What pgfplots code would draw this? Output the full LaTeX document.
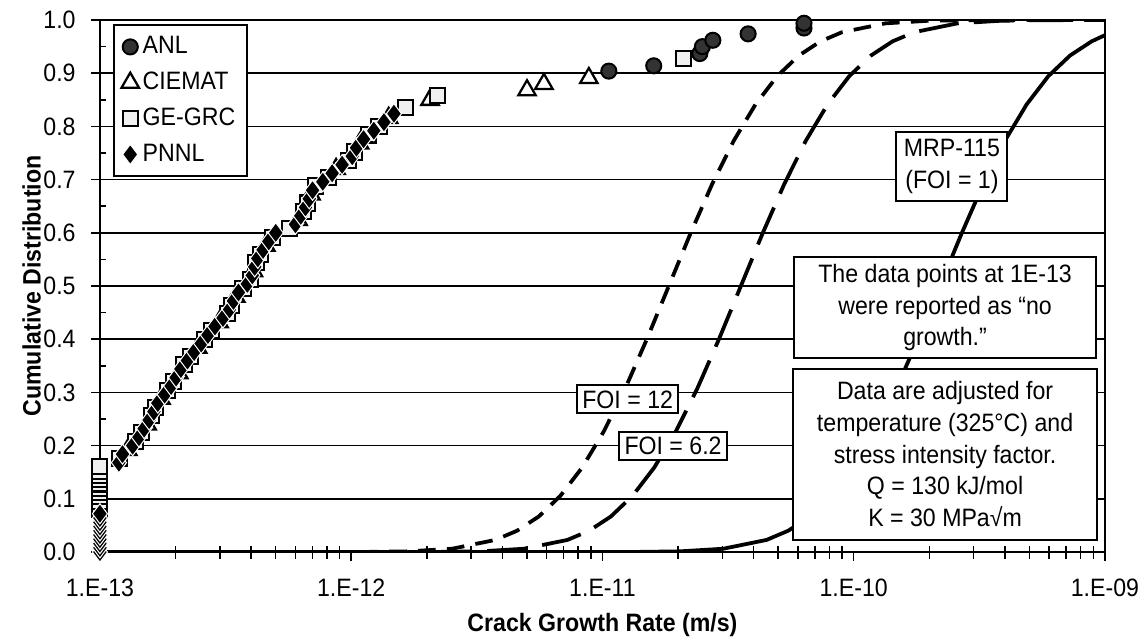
\documentclass[border=0pt]{standalone}
\usepackage{fontspec}
\setmainfont[FakeStretch=0.92]{Liberation Sans}
\usepackage{pgfplots}
\pgfplotsset{compat=1.18}

\begin{document}
\fontsize{10pt}{12pt}\selectfont
\begin{tikzpicture}
\begin{axis}[
    scale only axis,
    width=14.044cm, height=7.434cm,
    xmode=log,
    xmin=1e-13, xmax=1e-9, ymin=0, ymax=1,
    xtick={1e-13,1e-12,1e-11,1e-10,1e-9},
    xticklabels={1.E-13,1.E-12,1.E-11,1.E-10,1.E-09},
    ytick={0,0.1,0.2,0.3,0.4,0.5,0.6,0.7,0.8,0.9,1},
    yticklabels={0.0,0.1,0.2,0.3,0.4,0.5,0.6,0.7,0.8,0.9,1.0},
    xtick pos=bottom, ytick pos=left,
    tick align=outside, major tick length=3.5pt,
    tick style={black, line width=0.6pt},
    extra x ticks={2e-13,3e-13,4e-13,5e-13,6e-13,7e-13,8e-13,9e-13,
                   2e-12,3e-12,4e-12,5e-12,6e-12,7e-12,8e-12,9e-12,
                   2e-11,3e-11,4e-11,5e-11,6e-11,7e-11,8e-11,9e-11,
                   2e-10,3e-10,4e-10,5e-10,6e-10,7e-10,8e-10,9e-10},
    extra x tick labels={},
    extra x tick style={tick align=inside, major tick length=2.5pt, grid=none},
    extra y ticks={0.05,0.15,0.25,0.35,0.45,0.55,0.65,0.75,0.85,0.95},
    extra y tick labels={},
    extra y tick style={tick align=inside, major tick length=2.5pt, grid=none},
    ymajorgrids,
    major grid style={black, line width=0.6pt},
    axis line style={black, line width=1pt},
    /pgf/number format/assume math mode=true,
    yticklabel style={inner sep=0pt, xshift=-6pt},
    xticklabel style={inner sep=0pt, yshift=-7pt},
    xlabel={\bfseries Crack Growth Rate (m/s)},
    ylabel={\bfseries Cumulative Distribution},
    xlabel style={at={(axis description cs:0.5,-0.137)}, anchor=center},
    ylabel style={at={(axis description cs:-0.068,0.5)}, anchor=center},
    legend style={at={(0.013,0.9925)}, anchor=north west, draw=black,
        line width=0.8pt, fill=white, row sep=2.8pt, inner xsep=3pt, inner ysep=3pt,
        nodes={inner sep=1.5pt}},
    legend cell align=left,
]

% FOI = 12
\addplot[black, line width=1.5pt, dash pattern=on 7pt off 4.5pt, forget plot] coordinates {
 (1e-13,0) (7.66e-13,0) (1.139e-12,0.0002) (1.694e-12,0.0013) (2.52e-12,0.0062)
 (3.75e-12,0.0228) (4.575e-12,0.0401) (5.58e-12,0.0668) (6.80e-12,0.1056)
 (8.30e-12,0.1587) (1.012e-11,0.2266) (1.235e-11,0.3085) (1.506e-11,0.4013)
 (1.837e-11,0.5) (2.240e-11,0.5987) (2.732e-11,0.6915) (3.333e-11,0.7734)
 (4.064e-11,0.8413) (4.957e-11,0.8944) (6.046e-11,0.9332) (7.374e-11,0.9599)
 (8.995e-11,0.9772) (1.338e-10,0.9938) (1.991e-10,0.9987) (2.961e-10,0.9998) (1e-9,1)
};
% FOI = 6.2
\addplot[black, line width=1.5pt, dash pattern=on 16pt off 6pt, forget plot] coordinates {
 (1e-13,0) (1.483e-12,0) (2.205e-12,0.0002) (3.280e-12,0.0013) (4.879e-12,0.0062)
 (7.26e-12,0.0228) (8.857e-12,0.0401) (1.080e-11,0.0668) (1.317e-11,0.1056)
 (1.607e-11,0.1587) (1.959e-11,0.2266) (2.391e-11,0.3085) (2.916e-11,0.4013)
 (3.556e-11,0.5) (4.337e-11,0.5987) (5.289e-11,0.6915) (6.453e-11,0.7734)
 (7.868e-11,0.8413) (9.597e-11,0.8944) (1.1705e-10,0.9332) (1.4276e-10,0.9599)
 (1.7414e-10,0.9772) (2.590e-10,0.9938) (3.855e-10,0.9987) (5.732e-10,0.9998) (1e-9,1)
};
% MRP-115
\addplot[black, line width=1.5pt, forget plot] coordinates {
 (1e-13,0) (9.19e-12,0) (1.367e-11,0.0002) (2.033e-11,0.0013) (3.024e-11,0.0062)
 (4.50e-11,0.0228) (5.49e-11,0.0401) (6.694e-11,0.0668) (8.164e-11,0.1056)
 (9.959e-11,0.1587) (1.2144e-10,0.2266) (1.482e-10,0.3085) (1.807e-10,0.4013)
 (2.204e-10,0.5) (2.688e-10,0.5987) (3.278e-10,0.6915) (4.0e-10,0.7734)
 (4.877e-10,0.8413) (5.948e-10,0.8944) (7.255e-10,0.9332) (8.849e-10,0.9599) (1e-9,0.9716)
};

% ANL
\addplot[only marks, mark=*, mark size=3pt, mark options={fill=black!80, draw=black, line width=0.8pt}] coordinates {
 (1.06e-11,0.904) (1.60e-11,0.914) (2.44e-11,0.937) (2.5e-11,0.95) (2.75e-11,0.962)
 (3.80e-11,0.974) (6.34e-11,0.985) (6.34e-11,0.994)
};
\addlegendentry{ANL}
% CIEMAT
\addplot[only marks, mark=triangle*, mark size=4pt, mark options={fill=white, draw=black, line width=0.9pt}] coordinates {
 (1.29e-13,0.192) (1.54e-13,0.240) (1.75e-13,0.288) (2.06e-13,0.336) (2.45e-13,0.384)
 (2.98e-13,0.432) (3.47e-13,0.480) (4.08e-13,0.528) (4.57e-13,0.576) (6.15e-13,0.624)
 (6.92e-13,0.672) (8.71e-13,0.720) (1.08e-12,0.768) (1.41e-12,0.816)
 (2.06e-12,0.85) (5.01e-12,0.868) (5.85e-12,0.88) (8.83e-12,0.891)
};
\addlegendentry{CIEMAT}
% GE-GRC
\addplot[only marks, mark=square*, mark size=3pt, mark options={fill=gray!12, draw=black, line width=0.8pt}] coordinates {
 (1e-13,0.080) (1e-13,0.088) (1e-13,0.096) (1e-13,0.104) (1e-13,0.112) (1e-13,0.120)
 (1e-13,0.128) (1e-13,0.136) (1e-13,0.144) (1e-13,0.152) (1e-13,0.160)
 (1.20e-13,0.176) (1.39e-13,0.208) (1.46e-13,0.224) (1.61e-13,0.256) (1.67e-13,0.272)
 (1.86e-13,0.304) (1.96e-13,0.320) (2.16e-13,0.352) (2.30e-13,0.368) (2.61e-13,0.400)
 (2.77e-13,0.416) (3.21e-13,0.448) (3.34e-13,0.464) (3.71e-13,0.496) (3.99e-13,0.512)
 (4.18e-13,0.544) (4.35e-13,0.560) (4.85e-13,0.592) (5.70e-13,0.608) (6.46e-13,0.640)
 (6.70e-13,0.656) (7.24e-13,0.688) (8.09e-13,0.704) (9.73e-13,0.736) (1.03e-12,0.752)
 (1.17e-12,0.784) (1.29e-12,0.800)
 (1.64e-12,0.836) (2.21e-12,0.859) (2.11e-11,0.927)
};
\addlegendentry{GE-GRC}
% PNNL
\addplot[only marks, mark=diamond*, mark size=4pt, mark options={fill=black, draw=white, line width=0.4pt}] coordinates {
 (1e-13,0.000) (1e-13,0.008) (1e-13,0.016) (1e-13,0.024) (1e-13,0.032) (1e-13,0.040)
 (1e-13,0.048) (1e-13,0.056) (1e-13,0.064) (1e-13,0.072)
 (1.19e-13,0.168) (1.23e-13,0.184) (1.35e-13,0.200) (1.43e-13,0.216) (1.50e-13,0.232)
 (1.57e-13,0.248) (1.64e-13,0.264) (1.70e-13,0.280) (1.81e-13,0.296) (1.92e-13,0.312)
 (2.01e-13,0.328) (2.10e-13,0.344) (2.23e-13,0.360) (2.37e-13,0.376) (2.53e-13,0.392)
 (2.69e-13,0.408) (2.87e-13,0.424) (3.09e-13,0.440) (3.28e-13,0.456) (3.40e-13,0.472)
 (3.56e-13,0.488) (3.86e-13,0.504) (4.04e-13,0.520) (4.13e-13,0.536) (4.25e-13,0.552)
 (4.46e-13,0.568) (4.70e-13,0.584) (5.01e-13,0.600) (6.00e-13,0.616) (6.30e-13,0.632)
 (6.58e-13,0.648) (6.81e-13,0.664) (7.02e-13,0.680) (7.71e-13,0.696) (8.40e-13,0.712)
 (9.20e-13,0.728) (1.01e-12,0.744) (1.05e-12,0.760) (1.12e-12,0.776) (1.23e-12,0.792)
 (1.35e-12,0.808) (1.48e-12,0.824)
};
\addlegendentry{PNNL}

\tikzset{box/.style={draw=black, line width=0.8pt, fill=white, align=center,
    font=\fontsize{10pt}{12.6pt}\selectfont}}
\node[box, inner sep=2pt] at (axis cs:1.26e-11,0.287) {FOI = 12};
\node[box, inner sep=2pt] at (axis cs:1.91e-11,0.200) {FOI = 6.2};
\node[box, inner sep=3pt] at (axis cs:2.46e-10,0.725) {MRP-115\\(FOI = 1)};
\node[box, minimum width=120pt, minimum height=40pt, inner sep=2pt] at (axis cs:2.31e-10,0.4596)
    {The data points at 1E-13\\were reported as “no\\growth.”};
\node[box, minimum width=120.8pt, minimum height=68pt, inner sep=2pt] at (axis cs:2.31e-10,0.184)
    {Data are adjusted for\\temperature (325°C) and\\stress intensity factor.\\Q = 130 kJ/mol\\K = 30 MPa√m};
\end{axis}
\pgfresetboundingbox
\path[use as bounding box] ([xshift=-1.397cm,yshift=-1.202cm]current axis.south west)
    rectangle ([xshift=0.559cm,yshift=0.28cm]current axis.north east);
\end{tikzpicture}
\end{document}
